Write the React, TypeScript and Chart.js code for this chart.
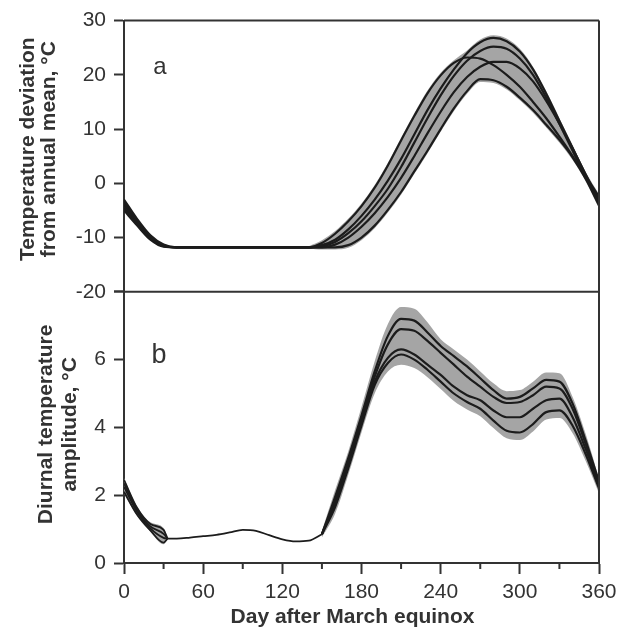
import React, { useEffect, useRef } from 'react';
import { Chart, registerables } from 'chart.js';

Chart.register(...registerables);

// ---------- Panel a: temperature deviation (°C) ----------
const topDays = [0, 10, 20, 30, 40, 50, 60, 70, 80, 90, 100, 110, 120, 130, 140, 150, 160, 170, 180, 190, 200, 210, 220, 230, 240, 250, 260, 270, 280, 290, 300, 310, 320, 330, 340, 350, 360];
const topC1 = [-3.0, -6.6, -9.6, -11.3, -11.8, -11.8, -11.8, -11.8, -11.8, -11.8, -11.8, -11.8, -11.8, -11.8, -11.8, -11.4, -10.4, -8.5, -6.0, -3.0, 0.5, 4.5, 9.0, 13.5, 17.5, 21.0, 24.0, 26.0, 26.8, 26.2, 24.3, 21.0, 16.5, 11.5, 6.5, 1.5, -2.5];
const topC2 = [-3.5, -6.9, -9.8, -11.4, -11.8, -11.8, -11.8, -11.8, -11.8, -11.8, -11.8, -11.8, -11.8, -11.8, -11.8, -11.6, -10.8, -9.2, -7.0, -4.2, -1.0, 3.0, 7.5, 12.0, 16.2, 19.8, 22.6, 24.4, 25.2, 24.8, 23.0, 20.0, 15.8, 11.0, 6.0, 1.0, -3.0];
const topC3 = [-4.0, -7.2, -10.0, -11.5, -11.8, -11.8, -11.8, -11.8, -11.8, -11.8, -11.8, -11.8, -11.8, -11.8, -11.8, -11.0, -9.3, -7.0, -4.2, -0.8, 3.3, 7.9, 12.4, 16.6, 19.9, 22.2, 23.2, 23.0, 21.8, 20.0, 17.8, 15.0, 12.0, 8.6, 5.0, 1.0, -3.6];
const topC4 = [-4.5, -7.5, -10.2, -11.6, -11.8, -11.8, -11.8, -11.8, -11.8, -11.8, -11.8, -11.8, -11.8, -11.8, -11.8, -11.8, -11.3, -10.0, -8.0, -5.5, -2.5, 1.0, 5.0, 9.2, 13.2, 16.8, 19.6, 21.5, 22.4, 22.4, 21.2, 18.8, 15.2, 11.0, 6.4, 1.6, -3.2];
const topC5 = [-5.0, -7.8, -10.4, -11.7, -11.8, -11.8, -11.8, -11.8, -11.8, -11.8, -11.8, -11.8, -11.8, -11.8, -11.8, -11.8, -11.8, -11.4, -10.0, -7.8, -4.9, -1.6, 2.2, 6.0, 10.0, 13.8, 17.0, 19.2, 19.0, 17.8, 15.8, 13.5, 10.8, 8.0, 4.8, 0.8, -4.1];

const topBandDays = [140, 150, 160, 170, 180, 190, 200, 210, 220, 230, 240, 250, 260, 270, 280, 290, 300, 310, 320, 330, 340, 350, 360];
const topBandUpper = [-11.6, -10.5, -8.8, -6.5, -3.7, -0.3, 3.8, 8.4, 12.9, 17.1, 20.4, 22.7, 24.5, 26.5, 27.3, 26.7, 24.8, 21.5, 17.0, 12.0, 7.0, 2.1, -2.0];
const topBandLower = [-12.0, -12.2, -12.2, -11.9, -10.5, -8.3, -5.4, -2.1, 1.7, 5.5, 9.5, 13.3, 16.5, 18.7, 18.5, 17.3, 15.3, 13.0, 10.3, 7.5, 4.3, 0.3, -4.6];

// ---------- Panel b: diurnal temperature amplitude (°C) ----------
const botEarlyDays = [0, 10, 20, 30, 33];
const botEarlyL1 = [2.45, 1.62, 1.15, 0.98, 0.72];
const botEarlyL2 = [2.35, 1.56, 1.08, 0.86, 0.72];
const botEarlyL3 = [2.25, 1.5, 1.02, 0.74, 0.72];
const botEarlyL4 = [2.1, 1.42, 0.96, 0.6, 0.72];
const botEarlyBandUpper = [2.5, 1.66, 1.2, 1.03, 0.72];
const botEarlyBandLower = [2.05, 1.38, 0.92, 0.55, 0.72];

const botCommonDays = [33, 40, 50, 60, 70, 80, 90, 100, 110, 120, 130, 140, 150];
const botCommon = [0.72, 0.72, 0.75, 0.79, 0.83, 0.9, 0.98, 0.95, 0.82, 0.7, 0.64, 0.66, 0.85];

const botLateDays = [150, 160, 170, 180, 190, 200, 210, 220, 230, 240, 250, 260, 270, 280, 290, 300, 310, 320, 330, 340, 350, 360];
const botLateL1 = [0.85, 1.95, 3.1, 4.35, 5.65, 6.7, 7.2, 7.15, 6.8, 6.4, 6.1, 5.8, 5.45, 5.1, 4.85, 4.9, 5.15, 5.4, 5.35, 4.7, 3.6, 2.4];
const botLateL2 = [0.85, 1.85, 3.0, 4.25, 5.5, 6.45, 6.9, 6.85, 6.55, 6.2, 5.85, 5.5, 5.2, 4.9, 4.72, 4.75, 4.95, 5.2, 5.15, 4.55, 3.5, 2.35];
const botLateL3 = [0.85, 1.75, 2.9, 4.15, 5.35, 6.05, 6.3, 6.15, 5.85, 5.55, 5.2, 4.95, 4.8, 4.5, 4.3, 4.3, 4.55, 4.8, 4.85, 4.3, 3.35, 2.3];
const botLateL4 = [0.85, 1.65, 2.8, 4.05, 5.25, 5.9, 6.15, 6.0, 5.7, 5.35, 5.0, 4.75, 4.55, 4.2, 3.9, 3.85, 4.1, 4.45, 4.5, 4.05, 3.2, 2.2];
const botLateBandUpper = [0.95, 2.15, 3.3, 4.6, 5.95, 7.05, 7.55, 7.5, 7.1, 6.6, 6.3, 6.0, 5.65, 5.3, 5.07, 5.1, 5.35, 5.62, 5.6, 4.9, 3.8, 2.5];
const botLateBandLower = [0.75, 1.45, 2.6, 3.85, 5.0, 5.65, 5.85, 5.75, 5.48, 5.13, 4.78, 4.53, 4.33, 3.98, 3.68, 3.63, 3.88, 4.23, 4.28, 3.83, 3.0, 2.05];

// ---------- Text ----------
const xTitle = 'Day after March equinox';
const topTitle = ['Temperature deviation', 'from annual mean, °C'];
const botTitle = ['Diurnal temperature', 'amplitude, °C'];

const FONT = 'Arial, "Liberation Sans", Helvetica, sans-serif';
const LINE = '#1c1c1c';
const BAND = '#a5a5a5';
const AXIS = '#333333';

const pts = (xs: number[], ys: number[]) => xs.map((x, i) => ({ x, y: ys[i] }));

const line = (xs: number[], ys: number[], axis: string, width = 2.2) => ({
  data: pts(xs, ys),
  yAxisID: axis,
  borderColor: LINE,
  borderWidth: width,
  pointRadius: 0,
  fill: false,
  cubicInterpolationMode: 'monotone',
  order: 0,
});

const bandUpper = (xs: number[], ys: number[], axis: string) => ({
  data: pts(xs, ys),
  yAxisID: axis,
  borderColor: 'rgba(0,0,0,0)',
  borderWidth: 0,
  backgroundColor: BAND,
  pointRadius: 0,
  fill: '+1',
  cubicInterpolationMode: 'monotone',
  order: 5,
});

const bandLower = (xs: number[], ys: number[], axis: string) => ({
  data: pts(xs, ys),
  yAxisID: axis,
  borderColor: 'rgba(0,0,0,0)',
  borderWidth: 0,
  pointRadius: 0,
  fill: false,
  cubicInterpolationMode: 'monotone',
  order: 5,
});

const decor = {
  id: 'decor',
  afterDraw(chart: any) {
    const ctx = chart.ctx;
    const a = chart.chartArea;
    const xs = chart.scales.x;
    const yA = chart.scales.yA;
    ctx.save();
    ctx.strokeStyle = AXIS;
    ctx.lineWidth = 2;
    ctx.beginPath();
    ctx.moveTo(a.left, a.top);
    ctx.lineTo(a.right, a.top);
    ctx.moveTo(a.right, a.top);
    ctx.lineTo(a.right, a.bottom + 1);
    ctx.moveTo(a.left, yA.bottom);
    ctx.lineTo(a.right, yA.bottom);
    ctx.stroke();
    // minor x ticks
    ctx.beginPath();
    for (const t of xs.ticks) {
      if (t.value % 60 !== 0) {
        const px = xs.getPixelForValue(t.value);
        ctx.moveTo(px, a.bottom);
        ctx.lineTo(px, a.bottom + 6);
      }
    }
    ctx.stroke();

    ctx.fillStyle = AXIS;
    ctx.textAlign = 'center';
    ctx.textBaseline = 'alphabetic';
    ctx.font = `24px ${FONT}`;
    ctx.fillText('a', a.left + 36, a.top + 53);
    ctx.font = `27px ${FONT}`;
    ctx.fillText('b', a.left + 35, yA.bottom + 71);

    ctx.font = `bold 21px ${FONT}`;
    ctx.fillText(xTitle, (a.left + a.right) / 2 - 9, chart.height - 5);

    const vtext = (text: string, bx: number, cy: number) => {
      ctx.save();
      ctx.translate(bx, cy);
      ctx.rotate(-Math.PI / 2);
      ctx.fillText(text, 0, 0);
      ctx.restore();
    };
    const topMid = (yA.top + yA.bottom) / 2 - 7;
    vtext(topTitle[0], 34, topMid);
    vtext(topTitle[1], 55, topMid);
    const yB = chart.scales.yB;
    const botMid = (yB.top + yB.bottom) / 2 - 3;
    vtext(botTitle[0], 52, botMid);
    vtext(botTitle[1], 76, botMid);
    ctx.restore();
  },
};

export default function App() {
  const ref = useRef<HTMLCanvasElement>(null);
  useEffect(() => {
    if (!ref.current) return;
    const tickFont = { family: FONT, size: 21 };
    const chart = new Chart(ref.current, {
      type: 'line',
      data: {
        datasets: [
          line(topDays, topC1, 'yA'),
          line(topDays, topC2, 'yA'),
          line(topDays, topC3, 'yA'),
          line(topDays, topC4, 'yA'),
          line(topDays, topC5, 'yA'),
          bandUpper(topBandDays, topBandUpper, 'yA'),
          bandLower(topBandDays, topBandLower, 'yA'),
          line(botEarlyDays, botEarlyL1, 'yB', 1.8),
          line(botEarlyDays, botEarlyL2, 'yB', 1.8),
          line(botEarlyDays, botEarlyL3, 'yB', 1.8),
          line(botEarlyDays, botEarlyL4, 'yB', 1.8),
          bandUpper(botEarlyDays, botEarlyBandUpper, 'yB'),
          bandLower(botEarlyDays, botEarlyBandLower, 'yB'),
          line(botCommonDays, botCommon, 'yB', 1.8),
          line(botLateDays, botLateL1, 'yB'),
          line(botLateDays, botLateL2, 'yB'),
          line(botLateDays, botLateL3, 'yB'),
          line(botLateDays, botLateL4, 'yB'),
          bandUpper(botLateDays, botLateBandUpper, 'yB'),
          bandLower(botLateDays, botLateBandLower, 'yB'),
        ] as any,
      },
      options: {
        animation: false,
        responsive: false,
        devicePixelRatio: 1,
        layout: { padding: { top: 19, right: 30, left: 0, bottom: 0 } },
        plugins: { legend: { display: false }, tooltip: { enabled: false }, title: { display: false } },
        scales: {
          x: {
            type: 'linear',
            position: 'bottom',
            min: 0,
            max: 360,
            afterFit: (s: any) => { s.height = 65; },
            ticks: {
              stepSize: 30,
              autoSkip: false,
              maxRotation: 0,
              padding: 6,
              color: AXIS,
              font: tickFont,
              callback: (v: any) => (Number(v) % 60 === 0 ? String(v) : ''),
            },
            grid: {
              display: true,
              drawOnChartArea: false,
              tickLength: 11,
              tickWidth: 2,
              tickColor: (c: any) => (c.tick && c.tick.value % 60 === 0 ? AXIS : 'rgba(0,0,0,0)'),
            },
            border: { display: true, color: AXIS, width: 2 },
          },
          yB: {
            type: 'linear',
            position: 'left',
            stack: 'panels',
            stackWeight: 1,
            min: 0,
            max: 8,
            afterFit: (s: any) => { s.width = 124; },
            ticks: {
              stepSize: 1,
              padding: 8,
              color: AXIS,
              font: tickFont,
              callback: (v: any) => (Number(v) % 2 === 0 && Number(v) < 8 ? String(v) : ''),
            },
            grid: { display: true, drawOnChartArea: false, tickLength: 10, tickWidth: 2, tickColor: AXIS },
            border: { display: true, color: AXIS, width: 2 },
          },
          yA: {
            type: 'linear',
            position: 'left',
            stack: 'panels',
            stackWeight: 1,
            min: -20,
            max: 30,
            afterFit: (s: any) => { s.width = 124; },
            ticks: {
              stepSize: 5,
              padding: 8,
              color: AXIS,
              font: tickFont,
              callback: (v: any) => (Number(v) % 10 === 0 ? String(v) : ''),
            },
            grid: { display: true, drawOnChartArea: false, tickLength: 10, tickWidth: 2, tickColor: AXIS },
            border: { display: true, color: AXIS, width: 2 },
          },
        } as any,
      },
      plugins: [decor],
    });
    return () => chart.destroy();
  }, []);

  return (
    <div style={{ position: 'absolute', left: 0, top: 0, width: 629, height: 628, background: '#fff' }}>
      <canvas ref={ref} width={629} height={628} style={{ width: 629, height: 628, display: 'block' }} />
    </div>
  );
}
